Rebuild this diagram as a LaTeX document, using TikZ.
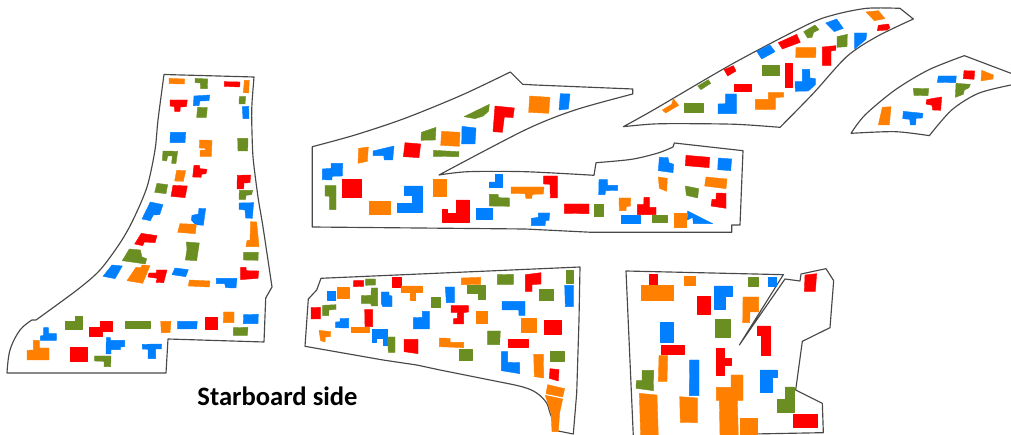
\documentclass[tikz,border=0pt]{standalone}
\usepackage{fontspec}
\setmainfont{Carlito}
\definecolor{orgc}{HTML}{FF8000}
\definecolor{bluc}{HTML}{0080FF}
\definecolor{redc}{HTML}{FF0000}
\definecolor{grnc}{HTML}{6B8E23}
\definecolor{linec}{HTML}{484848}
\tikzset{
 O/.style={fill=orgc,draw=orgc,line width=.4pt,line join=round},
 U/.style={fill=bluc,draw=bluc,line width=.4pt,line join=round},
 R/.style={fill=redc,draw=redc,line width=.4pt,line join=round},
 G/.style={fill=grnc,draw=grnc,line width=.4pt,line join=round},
 outl/.style={draw=linec,line width=1.15pt,line join=round},
 zm/.style 2 args={shift={(#1pt,-#2pt)},x=.33333pt,y=-.33333pt},
}
\newcommand\bld[2]{\path[#1] plot coordinates {#2} -- cycle;}
\begin{document}
\begin{tikzpicture}[x=1pt,y=-1pt]
\useasboundingbox (0pt,0pt) rectangle (1011pt,-435pt);
\clip (0pt,0pt) rectangle (1011pt,-435pt);
% ---- left piece
\draw[outl] plot[smooth,tension=.5] coordinates {(164,74.5) (158,120) (155,150) (147,187) (133,220) (120,243) (100,270) (77,290) (36,320)} -- (32,320)
  -- plot[smooth,tension=.6] coordinates {(32,320) (20,330) (10,350) (7,373)} -- (166,373) -- (168,339) -- (264,342) -- (265.7,298) -- (272,287)
  -- plot[smooth,tension=.4] coordinates {(272,287) (263,227) (258,197) (253,157) (251.7,120) (252,103) (254,77)} -- cycle;
\begin{scope}[zm={0}{70}]
\bld{O}{(507,25)(554,27)(553,42)(507,41)}
\bld{G}{(585,25)(623,27)(622,56)(602,56)(601,39)(585,38)}
\bld{R}{(673,35)(720,36)(719,51)(673,49)}
\bld{O}{(733,31)(748,31)(746,69)(730,68)}
\bld{R}{(510,90)(562,90)(559,110)(541,111)(540,124)(524,124)(523,110)(510,108)}
\bld{U}{(582,78)(629,75)(627,92)(600,93)(597,107)(580,107)}
\bld{G}{(593,112)(622,113)(619,142)(590,142)}
\bld{G}{(718,80)(737,80)(735,102)(717,102)}
\bld{U}{(727,110)(746,109)(747,146)(729,146)}
\bld{U}{(511,187)(557,187)(555,218)(510,218)}
\bld{O}{(599,210)(636,211)(634,259)(600,259)(600,241)(617,240)(617,235)(598,234)}
\bld{G}{(713,205)(744,205)(743,243)(714,243)}
\bld{G}{(489,243)(533,244)(528,280)(515,280)(517,258)(503,258)(500,273)(487,271)}
\bld{R}{(582,286)(598,286)(600,296)(621,298)(618,311)(605,313)(603,322)(578,321)}
\bld{O}{(530,301)(557,302)(550,334)(524,333)}
\bld{R}{(712,316)(752,315)(750,338)(732,339)(731,357)(711,357)}
\bld{G}{(471,340)(503,344)(498,371)(464,367)}
\bld{R}{(519,346)(562,348)(555,383)(513,379)}
\bld{G}{(718,361)(758,361)(755,374)(738,376)(737,388)(717,388)}
\bld{U}{(451,396)(489,404)(479,434)(460,435)(451,452)(426,447)}
\bld{U}{(597,415)(617,416)(610,466)(586,464)(574,450)(576,436)(595,432)}
\bld{U}{(717,399)(761,398)(759,420)(757,445)(737,444)(735,420)(717,418)}
\end{scope}
\begin{scope}[zm={0}{220}]
\bld{O}{(540,11)(589,13)(586,41)(533,37)}
\bld{O}{(752,5)(770,6)(777,80)(738,80)(741,62)(750,60)}
\bld{R}{(424,40)(471,47)(465,68)(433,66)(428,77)(404,72)}
\bld{G}{(559,66)(598,69)(590,122)(556,120)(561,88)}
\bld{G}{(388,87)(421,90)(426,111)(440,116)(436,132)(367,122)}
\bld{G}{(731,97)(775,97)(774,121)(731,120)}
\bld{U}{(336,135)(367,138)(345,176)(309,169)}
\bld{O}{(408,142)(423,143)(426,135)(450,137)(428,190)(381,182)}
\bld{R}{(470,150)(501,150)(491,188)(468,187)(472,175)(444,171)(447,159)(469,159)}
\bld{U}{(525,144)(565,149)(557,170)(516,164)}
\bld{R}{(722,142)(738,142)(739,152)(776,153)(774,175)(722,179)}
\bld{O}{(568,180)(630,183)(628,201)(565,198)}
\bld{U}{(649,175)(711,175)(708,204)(677,203)(674,191)(649,191)}
\bld{G}{(226,290)(248,290)(248,328)(196,328)(196,304)(226,304)}
\bld{R}{(301,305)(337,305)(337,335)(307,335)(307,350)(268,350)(268,323)(301,323)}
\bld{G}{(377,305)(452,305)(452,324)(377,324)}
\bld{O}{(482,304)(513,304)(510,338)(484,338)}
\bld{U}{(533,304)(592,304)(590,327)(533,327)}
\bld{R}{(617,292)(653,292)(653,328)(617,328)}
\bld{O}{(671,276)(702,276)(702,308)(670,308)}
\bld{U}{(731,284)(775,283)(774,311)(730,311)}
\bld{G}{(700,323)(744,322)(742,346)(700,346)}
\bld{U}{(131,323)(145,323)(146,341)(169,341)(169,361)(121,361)(121,348)(131,346)}
\bld{O}{(100,361)(118,361)(118,384)(147,384)(147,420)(81,420)(81,391)(100,390)}
\bld{R}{(210,382)(262,382)(262,424)(210,424)}
\bld{U}{(319,353)(331,353)(331,361)(374,361)(374,380)(361,381)(361,389)(333,389)(333,402)(318,402)}
\bld{U}{(427,373)(485,372)(484,387)(467,387)(467,416)(444,416)(444,388)(427,387)}
\bld{G}{(284,408)(333,408)(332,440)(312,440)(312,424)(284,423)}
\end{scope}
% ---- middle piece
\draw[outl] plot[smooth,tension=.5] coordinates {(312.3,146.7) (355,135) (405,118.3) (462,95) (510.3,72)} -- (522.7,84.3) -- (535,85) -- (632.7,89) -- (632.7,94)
  -- plot[smooth,tension=.5] coordinates {(632.7,94) (575,110) (525,130) (439,175)}
  -- plot[smooth,tension=.5] coordinates {(439,175) (468,171.7) (525,171.7) (594,175.3)} -- (596,162.7)
  -- plot[smooth,tension=.5] coordinates {(596,162.7) (631.7,159.3) (658,153) (673,147)} -- (674.3,143) -- (743,150.7) -- (740,225) -- (731.7,225) -- (731.7,232.3) -- (591.7,232.3) -- (525,229) -- (312.3,227) -- cycle;
\begin{scope}[zm={305}{65}]
\bld{G}{(477,155)(553,118)(551,138)(535,153)(510,161)}
\bld{R}{(570,123)(628,129)(624,158)(598,156)(592,202)(564,200)}
\bld{G}{(349,202)(393,187)(391,225)(348,226)}
\bld{O}{(410,199)(465,202)(463,244)(407,241)}
\bld{U}{(471,184)(513,189)(510,237)(470,237)}
\bld{O}{(161,250)(190,246)(187,289)(159,295)}
\bld{U}{(204,258)(267,243)(263,285)(238,285)(236,272)(204,272)}
\bld{R}{(300,233)(347,237)(342,278)(295,275)}
\bld{G}{(386,256)(462,260)(461,275)(385,274)}
\bld{U}{(78,295)(113,295)(112,333)(81,334)(81,345)(52,344)(52,312)(78,310)}
\bld{G}{(60,362)(93,362)(93,434)(74,434)(74,394)(60,393)}
\bld{R}{(111,344)(169,344)(169,398)(111,398)}
\bld{O}{(193,409)(255,409)(255,449)(193,449)}
\bld{U}{(298,363)(353,363)(353,441)(278,441)(278,416)(322,416)(322,390)(298,390)}
\bld{O}{(386,344)(425,344)(425,393)(386,393)}
\bld{R}{(453,405)(494,405)(494,471)(412,471)(412,433)(427,433)(427,445)(453,445)}
\bld{U}{(571,328)(591,328)(591,368)(553,368)(553,351)(571,351)}
\bld{G}{(553,388)(579,388)(581,398)(613,399)(613,424)(553,423)}
\bld{U}{(514,430)(563,430)(563,462)(514,462)}
\bld{O}{(618,366)(717,366)(715,387)(682,388)(680,400)(663,400)(660,386)(618,385)}
\end{scope}
\begin{scope}[zm={525}{80}]
\bld{O}{(14,48)(75,52)(71,100)(11,97)}
\bld{U}{(106,41)(135,42)(130,87)(102,90)}
\bld{U}{(19,415)(40,412)(40,399)(74,399)(72,421)(62,422)(60,437)(19,437)}
\bld{R}{(56,288)(97,288)(97,354)(76,354)(75,313)(56,312)}
\bld{U}{(222,299)(247,299)(248,316)(278,316)(278,331)(242,332)(240,344)(221,344)}
\bld{R}{(118,372)(192,372)(192,401)(118,400)}
\bld{G}{(207,372)(234,372)(234,410)(207,410)}
\bld{O}{(282,354)(317,354)(316,378)(304,380)(303,392)(283,392)}
\bld{R}{(357,352)(373,352)(373,382)(393,382)(393,404)(337,404)(337,374)(356,374)}
\bld{U}{(288,406)(345,406)(345,430)(288,430)}
\bld{G}{(381,405)(427,405)(427,428)(381,428)}
\bld{O}{(449,400)(485,400)(485,442)(449,442)}
\bld{U}{(488,393)(563,431)(505,431)(503,412)(487,420)}
\bld{U}{(403,232)(429,233)(432,248)(446,253)(444,278)(400,272)}
\bld{R}{(483,226)(554,232)(552,263)(481,257)}
\bld{U}{(580,234)(620,237)(617,272)(578,269)}
\bld{O}{(400,291)(427,295)(425,334)(403,325)}
\bld{O}{(543,291)(606,297)(603,326)(539,318)}
\bld{G}{(481,318)(521,326)(518,354)(484,346)}
\bld{R}{(574,339)(603,340)(603,385)(558,378)(561,358)(573,358)}
\end{scope}
% ---- top piece
\begin{scope}[zm={620}{0}]
\draw[outl] plot[smooth,tension=.5] coordinates {(10,380) (100,330) (340,190) (560,75) (640,45) (740,25) (840,25)} -- (880,57)
 -- plot[smooth,tension=.5] coordinates {(880,57) (770,110) (680,170) (580,280) (480,382)}
 -- plot[smooth,tension=.5] coordinates {(480,382) (350,373) (200,371) (100,372) (10,380)} -- cycle;
\bld{O}{(738,36)(775,32)(795,56)(763,62)}
\bld{R}{(775,76)(805,72)(810,83)(802,90)(772,92)}
\bld{U}{(617,69)(650,57)(670,85)(643,95)}
\bld{G}{(551,95)(585,75)(597,89)(581,97)(576,112)(563,114)}
\bld{R}{(475,128)(530,103)(541,127)(487,147)}
\bld{U}{(410,154)(450,135)(465,155)(425,177)}
\bld{O}{(528,143)(588,143)(587,172)(527,172)}
\bld{R}{(607,141)(648,137)(647,151)(633,153)(633,196)(607,196)}
\bld{G}{(651,110)(682,103)(681,140)(651,142)}
\bld{U}{(704,99)(740,99)(738,118)(704,147)}
\bld{R}{(312,209)(340,197)(348,213)(323,228)}
\bld{G}{(426,195)(477,195)(477,227)(426,227)}
\bld{R}{(495,189)(517,189)(517,263)(495,263)}
\bld{U}{(547,208)(569,208)(570,234)(586,236)(586,254)(565,273)(526,274)(525,245)(547,245)}
\bld{G}{(233,258)(265,239)(272,250)(243,269)}
\bld{R}{(343,252)(394,252)(394,274)(343,274)}
\bld{O}{(445,278)(491,278)(491,291)(466,293)(466,328)(406,328)(406,298)(445,298)}
\bld{G}{(194,309)(250,309)(250,337)(194,337)}
\bld{U}{(317,282)(349,282)(349,341)(294,341)(294,312)(317,311)}
\bld{O}{(127,330)(155,313)(160,296)(176,316)(137,339)}
\end{scope}
% ---- right piece
\begin{scope}[zm={845}{50}]
\draw[outl] (498,70) -- (358,17) -- plot[smooth,tension=.5] coordinates {(358,17) (250,60) (150,120) (60,195) (18,250)}
 -- plot[smooth,tension=.5] coordinates {(18,250) (150,245) (253,257)}
 -- plot[smooth,tension=.5] coordinates {(253,257) (320,180) (400,130) (498,105)};
\bld{O}{(112,172)(138,170)(133,225)(100,225)}
\bld{U}{(175,184)(234,190)(232,204)(213,205)(212,225)(196,225)(194,208)(173,206)}
\bld{R}{(265,145)(290,141)(287,181)(263,180)(261,166)(243,162)(245,149)}
\bld{G}{(205,115)(251,116)(249,137)(207,136)}
\bld{U}{(280,78)(334,78)(332,98)(277,97)}
\bld{G}{(333,100)(376,103)(372,113)(358,120)(355,133)(331,142)}
\bld{R}{(357,62)(389,63)(387,88)(355,86)}
\bld{O}{(410,61)(445,75)(444,87)(408,93)}
\end{scope}
% ---- lower middle piece
\draw[outl] (305,346.3) -- (308.3,299) -- (316.7,290) -- (321,278.3) -- (580,267) -- (579,320) -- (576.7,393) -- (573.3,434) -- (556.7,430.7)
 -- plot[smooth,tension=.6] coordinates {(556.7,430.7) (550,413) (546.7,403) (536.7,393) (523,387) (500,382)} -- (440,370) -- (416.7,365) -- (383,360) -- cycle;
\begin{scope}[zm={300}{260}]
\bld{R}{(161,62)(191,62)(191,79)(161,80)}
\bld{G}{(197,57)(226,57)(226,75)(197,76)}
\bld{R}{(278,53)(305,53)(305,81)(278,81)}
\bld{O}{(304,78)(366,78)(366,97)(345,97)(345,122)(332,122)(332,97)(304,97)}
\bld{U}{(83,93)(107,93)(107,122)(83,122)}
\bld{O}{(113,82)(147,82)(147,114)(113,114)}
\bld{G}{(214,84)(233,84)(233,138)(214,138)(212,130)(184,130)(184,107)(213,106)}
\bld{U}{(244,96)(267,96)(267,106)(276,108)(276,140)(248,140)(244,130)}
\bld{G}{(393,112)(421,112)(421,142)(393,142)}
\bld{R}{(33,143)(61,142)(61,177)(33,177)}
\bld{G}{(68,136)(108,134)(108,148)(87,150)(86,167)(68,167)}
\bld{R}{(194,149)(218,149)(218,200)(195,200)}
\bld{U}{(120,176)(146,175)(146,204)(107,203)(107,186)(120,185)}
\bld{U}{(367,154)(388,154)(388,207)(340,207)(340,173)(367,172)}
\bld{O}{(57,211)(92,215)(91,230)(76,231)(75,246)(62,242)}
\bld{O}{(155,203)(207,203)(207,218)(155,218)}
\bld{U}{(216,208)(262,208)(262,256)(250,256)(250,236)(229,236)(229,247)(216,247)}
\bld{G}{(262,231)(285,231)(285,277)(265,277)}
\bld{R}{(312,238)(354,238)(354,281)(312,275)}
\end{scope}
\begin{scope}[zm={440}{260}]
\bld{O}{(64,54)(122,52)(122,73)(64,74)}
\bld{G}{(172,44)(220,43)(220,73)(172,73)}
\bld{R}{(256,44)(303,38)(303,72)(276,74)(276,94)(256,94)}
\bld{G}{(380,31)(400,31)(400,70)(380,70)}
\bld{U}{(374,76)(400,76)(400,140)(376,140)}
\bld{G}{(82,76)(136,76)(136,118)(114,118)(114,100)(82,100)}
\bld{G}{(297,87)(341,87)(341,122)(297,122)}
\bld{U}{(16,81)(43,81)(43,128)(19,128)}
\bld{R}{(33,137)(85,137)(85,156)(71,158)(71,192)(41,192)(41,176)(52,175)(52,157)(33,157)}
\bld{O}{(108,154)(143,154)(143,190)(108,190)}
\bld{U}{(186,124)(255,124)(255,166)(237,166)(236,150)(186,150)}
\bld{O}{(244,176)(288,176)(288,216)(244,216)}
\bld{R}{(313,181)(363,181)(363,222)(313,222)}
\bld{G}{(143,213)(181,213)(179,254)(143,254)}
\bld{R}{(206,239)(266,239)(266,262)(206,262)}
\bld{O}{(-2,234)(30,235)(31,247)(71,247)(71,263)(-2,260)}
\bld{G}{(58,267)(97,267)(97,302)(58,302)}
\bld{G}{(331,274)(373,274)(373,304)(331,304)}
\bld{U}{(184,275)(203,275)(203,307)(239,308)(239,341)(184,332)}
\bld{O}{(281,283)(310,283)(311,354)(283,350)}
\bld{R}{(330,326)(357,329)(355,363)(328,355)}
\bld{O}{(323,374)(374,386)(368,411)(318,401)}
\bld{O}{(316,406)(368,417)(359,458)(355,515)(336,515)(333,460)}
\end{scope}
% ---- lower right piece
\begin{scope}[zm={620}{260}]
\draw[outl] (40,530) -- (18,33) -- (490,44) -- (358,255) -- (495,57) -- (540,63) -- (543,42) -- (618,26) -- (641,62) -- (630,203) -- (547,244) -- (527,390) -- (607,430) -- (610,518) -- (400,522);
\bld{R}{(88,43)(113,43)(113,77)(88,77)}
\bld{O}{(65,77)(161,77)(161,122)(65,122)}
\bld{O}{(194,50)(227,50)(227,77)(194,77)}
\bld{G}{(385,51)(416,51)(416,78)(385,78)}
\bld{U}{(444,51)(470,51)(470,78)(444,78)}
\bld{R}{(555,45)(590,41)(586,94)(553,94)}
\bld{R}{(232,108)(271,108)(271,163)(232,163)}
\bld{U}{(283,78)(337,78)(337,108)(315,108)(315,147)(283,147)}
\bld{O}{(369,111)(416,111)(416,156)(390,156)(389,188)(368,188)}
\bld{U}{(121,187)(160,187)(160,246)(121,246)}
\bld{G}{(286,178)(331,178)(331,232)(286,232)}
\bld{R}{(412,198)(451,198)(451,287)(424,287)(424,226)(412,226)}
\bld{R}{(123,257)(194,257)(194,283)(123,283)}
\bld{O}{(117,287)(143,287)(141,364)(115,364)}
\bld{U}{(209,300)(237,300)(237,407)(208,407)}
\bld{R}{(289,266)(312,266)(312,295)(333,295)(333,316)(313,316)(313,345)(289,345)}
\bld{G}{(66,331)(101,331)(100,392)(48,385)(49,362)(66,362)}
\bld{O}{(333,345)(369,345)(369,421)(352,421)(355,530)(300,530)(298,421)(289,421)(289,382)(333,382)}
\bld{U}{(421,330)(472,330)(472,352)(457,352)(457,397)(421,397)}
\bld{G}{(495,381)(522,381)(522,458)(471,458)(471,418)(495,418)}
\bld{O}{(58,400)(111,405)(115,530)(62,530)}
\bld{O}{(179,410)(232,414)(232,488)(181,487)}
\bld{R}{(521,462)(592,462)(592,502)(521,502)}
\bld{O}{(360,476)(412,476)(412,530)(360,530)}
\end{scope}
\node[font=\bfseries\fontsize{26.6}{30}\selectfont,inner sep=0pt] (cap) at (277.5,396) {Starboard side};
\end{tikzpicture}
\end{document}
